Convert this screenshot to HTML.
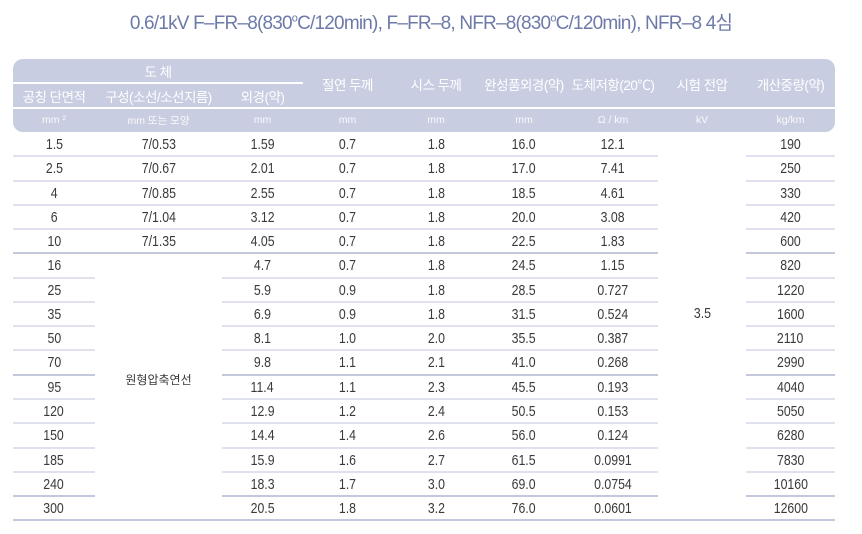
<!DOCTYPE html>
<html><head><meta charset="utf-8"><style>
body{margin:0;width:862px;height:534px;background:#fff;position:relative;overflow:hidden;font-family:"Liberation Sans","Noto Sans CJK KR",sans-serif}
.t{position:absolute;left:0;width:862px;top:8px;text-align:center;font-size:19px;color:#6d7aa8;letter-spacing:-0.8px}
.hd{position:absolute;left:13px;top:59px;width:822px;height:73px;background:#c8cde1;border-radius:10px}
.h{position:absolute;color:#fff;font-size:13.5px;text-align:center;display:flex;align-items:center;justify-content:center;white-space:nowrap;letter-spacing:-0.5px}
.s{font-size:10.5px;color:#fafafa;letter-spacing:0}
.vl{position:absolute;width:2px;background:#fff}
.hl{position:absolute;height:2px;background:#fff}
.c{position:absolute;text-align:center;font-size:15px;color:#3a3a3a;height:24px;line-height:24px}
.c span{display:inline-block;transform:scaleX(0.82)}
.ln{position:absolute;height:2px;background:#dfe2ee}
</style></head><body>
<div class="t">0.6/1kV F–FR–8(830<sup style="font-size:11px">o</sup>C/120min), F–FR–8, NFR–8(830<sup style="font-size:11px">o</sup>C/120min), NFR–8 4심</div>
<div class="hd"></div>
<div id="root"></div>
<script>
var X=[13,95,222,303,392,480,568,658,746,835];
var R=document.getElementById('root'),h='';
function H(x1,x2,y1,y2,t,cl){h+='<div class="h '+(cl||'')+'" style="left:'+x1+'px;width:'+(x2-x1)+'px;top:'+y1+'px;height:'+(y2-y1)+'px">'+t+'</div>';}
H(13,303,59,83,'도 체');
H(13,95,83,108,'공칭 단면적');H(95,222,83,108,'구성(소선/소선지름)');H(222,303,83,108,'외경(약)');
var hs=['절연 두께','시스 두께','완성품외경(약)','도체저항(20℃)','시험 전압','개산중량(약)'];
for(var i=0;i<6;i++)H(X[i+3],X[i+4],59,108,hs[i]);
var us=['mm ²','mm 또는 모양','mm','mm','mm','mm','Ω / km','kV','kg/km'];
for(i=0;i<9;i++)H(X[i],X[i+1],108,132,us[i],'s');
for(i=1;i<9;i++){var top=(i<3)?83:59;h+='<div class="vl" style="left:'+X[i]+'px;top:'+top+'px;height:'+(132-top)+'px"></div>';}
h+='<div class="hl" style="left:13px;width:290px;top:82px"></div>';
h+='<div class="hl" style="left:13px;width:822px;top:107px"></div>';
var d=[
['1.5','7/0.53','1.59','0.7','1.8','16.0','12.1','190'],
['2.5','7/0.67','2.01','0.7','1.8','17.0','7.41','250'],
['4','7/0.85','2.55','0.7','1.8','18.5','4.61','330'],
['6','7/1.04','3.12','0.7','1.8','20.0','3.08','420'],
['10','7/1.35','4.05','0.7','1.8','22.5','1.83','600'],
['16','','4.7','0.7','1.8','24.5','1.15','820'],
['25','','5.9','0.9','1.8','28.5','0.727','1220'],
['35','','6.9','0.9','1.8','31.5','0.524','1600'],
['50','','8.1','1.0','2.0','35.5','0.387','2110'],
['70','','9.8','1.1','2.1','41.0','0.268','2990'],
['95','','11.4','1.1','2.3','45.5','0.193','4040'],
['120','','12.9','1.2','2.4','50.5','0.153','5050'],
['150','','14.4','1.4','2.6','56.0','0.124','6280'],
['185','','15.9','1.6','2.7','61.5','0.0991','7830'],
['240','','18.3','1.7','3.0','69.0','0.0754','10160'],
['300','','20.5','1.8','3.2','76.0','0.0601','12600']];
var RH=24.27,cols=[0,1,2,3,4,5,6,8];
for(var r=0;r<16;r++){var y=132+r*RH;
 for(var k=0;k<8;k++){var c=cols[k];if(d[r][k]==='')continue;
  h+='<div class="c" style="left:'+X[c]+'px;width:'+(X[c+1]-X[c])+'px;top:'+(y+1)+'px"><span>'+d[r][k]+'</span></div>';}
 var yb=Math.round(y+RH)-1;var dark=(r==4||r==9||r==14||r==15);var col=dark?'#c3c8dd':'#dfe2ee';
 var segs=(r<4)?[[13,658],[746,835]]:(r<15?[[13,95],[222,658],[746,835]]:[[13,835]]);
 if(r==4)segs=[[13,658],[746,835]];
 for(var s=0;s<segs.length;s++)h+='<div class="ln" style="background:'+col+';left:'+segs[s][0]+'px;width:'+(segs[s][1]-segs[s][0])+'px;top:'+yb+'px"></div>';
}
h+='<div class="c" style="left:95px;width:127px;top:368px;font-size:12px">원형압축연선</div>';
h+='<div class="c" style="left:658px;width:88px;top:302px"><span>3.5</span></div>';
R.innerHTML=h;
</script>
</body></html>
